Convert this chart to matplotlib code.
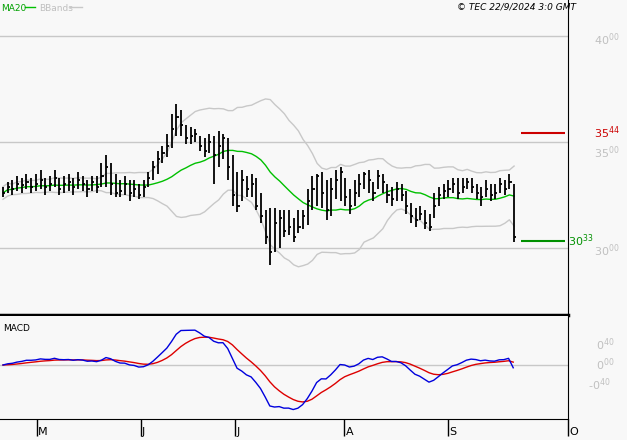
import numpy as np
import pandas as pd
import matplotlib
matplotlib.use('Agg')
import matplotlib.pyplot as plt
from matplotlib.lines import Line2D

plt.rcParams['mathtext.default'] = 'regular'

# daily closes, 22 Apr 2024 .. 20 Sep 2024 (trading days)
closes = [32.60, 32.90, 32.80, 33.00, 32.95,
          33.10, 32.90, 33.00, 33.20, 32.90,
          33.00, 33.30, 32.80, 33.00, 33.10,
          32.90, 33.20, 33.00, 32.80, 33.10,
          32.90, 33.40, 33.80, 33.00, 32.60,
          32.70, 33.00, 32.60, 32.80, 32.50,
          32.90, 33.30, 33.80, 34.20, 34.50,
          34.80, 35.60, 36.20, 35.80, 35.20,
          35.30, 35.40, 34.80, 34.60, 35.00,
          34.40, 34.80, 35.20, 33.80, 32.50,
          32.00, 33.20, 32.80, 33.00, 32.00,
          31.50, 30.50, 29.80, 31.20, 31.40,
          30.80, 31.00, 30.50, 31.00, 31.50,
          32.20, 32.80, 33.40, 32.60, 31.80,
          32.80, 33.20, 33.60, 32.40, 32.00,
          32.60, 33.00, 33.50, 33.20, 32.60,
          33.40, 33.10, 32.50, 32.30, 32.80,
          32.50, 32.00, 31.50, 31.30, 31.60,
          31.20, 31.00, 32.00, 32.50, 32.70,
          32.80, 33.00, 32.60, 32.90, 33.10,
          32.90, 32.60, 32.40, 32.80, 32.50,
          32.60, 33.00, 32.80, 33.10, 30.50]
highs = [32.90, 33.10, 33.20, 33.40, 33.30,
         33.50, 33.30, 33.50, 33.70, 33.30,
         33.40, 33.70, 33.30, 33.40, 33.50,
         33.30, 33.60, 33.40, 33.20, 33.40,
         33.40, 34.00, 34.40, 34.00, 33.50,
         33.20, 33.40, 33.20, 33.20, 33.00,
         33.20, 33.60, 34.10, 34.60, 34.80,
         35.40, 36.30, 36.80, 36.50, 35.80,
         35.70, 35.60, 35.30, 35.20, 35.40,
         35.30, 35.50, 35.40, 35.20, 34.40,
         33.60, 33.70, 33.40, 33.50, 33.30,
         32.60, 31.80, 31.90, 31.90, 31.80,
         31.80, 31.80, 31.40, 31.80, 31.80,
         32.80, 33.40, 33.50, 33.60, 33.20,
         33.30, 33.70, 33.80, 33.30, 32.80,
         33.20, 33.50, 33.60, 33.70, 33.10,
         33.70, 33.50, 33.00, 32.90, 33.10,
         33.00, 32.70, 32.10, 31.90, 32.00,
         31.80, 31.60, 32.60, 32.90, 33.00,
         33.20, 33.30, 33.30, 33.30, 33.30,
         33.30, 33.00, 32.90, 33.20, 33.00,
         33.00, 33.30, 33.20, 33.50, 33.00]
lows = [32.40, 32.60, 32.50, 32.70, 32.60,
        32.80, 32.60, 32.70, 32.80, 32.50,
        32.70, 32.90, 32.50, 32.60, 32.70,
        32.50, 32.80, 32.70, 32.40, 32.70,
        32.60, 32.90, 32.90, 32.50, 32.40,
        32.40, 32.50, 32.20, 32.40, 32.30,
        32.40, 32.90, 33.20, 33.50, 34.00,
        34.30, 34.70, 35.30, 35.30, 34.90,
        34.90, 35.00, 34.60, 34.30, 34.50,
        33.00, 33.80, 34.20, 33.20, 32.00,
        31.70, 32.20, 32.40, 32.40, 31.80,
        31.20, 30.20, 29.20, 29.80, 30.00,
        30.50, 30.60, 30.30, 30.70, 30.90,
        31.10, 31.80, 32.00, 31.90, 31.30,
        31.50, 32.30, 32.20, 32.00, 31.60,
        32.00, 32.40, 32.80, 32.60, 32.20,
        32.80, 32.60, 32.10, 32.00, 32.20,
        32.20, 31.60, 31.20, 31.00, 31.30,
        30.90, 30.80, 31.40, 32.00, 32.30,
        32.40, 32.60, 32.30, 32.60, 32.80,
        32.60, 32.30, 32.00, 32.40, 32.20,
        32.30, 32.60, 32.50, 32.80, 30.30]

month_labels = ['M', 'J', 'J', 'A', 'S', 'O']
month_pos = [7.25, 29.4, 49.5, 72.9, 95.1, 120.7]
price_ticks = [30, 35, 40]
macd_ticks = [0.40, 0.0, -0.40]
macd_tick_labels = [('0', '40'), ('0', '00'), ('-0', '40')]
last_price = 30.33
resistance = 35.44

bg = '#f8f8f8'
grid_c = '#c8c8c8'
lbl_c = '#c0c0c0'

s = pd.Series(closes)
ma20 = s.rolling(20, min_periods=1).mean()
sd = s.rolling(20, min_periods=2).std(ddof=0).bfill()
upper = ma20 + 2 * sd
lower = ma20 - 2 * sd
ema12 = s.ewm(span=12, adjust=False).mean()
ema26 = s.ewm(span=26, adjust=False).mean()
macd = ema12 - ema26
signal = macd.ewm(span=9, adjust=False).mean()
x = np.arange(len(closes))

fig = plt.figure(figsize=(6.27, 4.4), dpi=100, facecolor=bg)
W = 568 / 627
ax = fig.add_axes([0, 1 - 315 / 440, W, 315 / 440], facecolor=bg)
ax2 = fig.add_axes([0, 21 / 440, W, 103 / 440], facecolor=bg)
xlim = (-0.64, 120.5)

# price panel
for p in price_ticks:
    ax.axhline(p, color=grid_c, lw=1, zorder=0)
ax.plot(x, upper, color='#c8c8c8', lw=1)
ax.plot(x, lower, color='#c8c8c8', lw=1)
ax.plot(x, ma20, color='#00c000', lw=1)
ax.vlines(x, lows, highs, color='black', lw=1.3)
ax.hlines(closes, x, x + 0.45, color='black', lw=1.3)
ax.hlines(resistance, 110.5, 119.8, color='#cc0000', lw=1.5)
ax.hlines(last_price, 110.5, 119.8, color='#009000', lw=1.5)
ax.set_xlim(*xlim)
ax.set_ylim(26.84, 41.70)
ax.set_xticks([])
ax.set_yticks([])
for sp in ['left', 'top']:
    ax.spines[sp].set_visible(False)
ax.spines['right'].set_color('black')
ax.spines['bottom'].set_linewidth(2.5)

def sup_label(axis, y, a, b, color, xoff=1.005, size=8):
    axis.text(xoff, y, r'%s$^{%s}$' % (a, b), transform=axis.get_yaxis_transform(),
              color=color, fontsize=size, va='center', ha='left', clip_on=False)

for p in price_ticks:
    sup_label(ax, p - (0.5 if p == 35 else 0.15), str(p), '00', lbl_c, xoff=1.045)
sup_label(ax, resistance, '35', '44', '#cc0000', xoff=1.045)
sup_label(ax, last_price, '30', '33', '#009000', xoff=1.0)

# legend text on top
fig.text(0.002, 0.992, 'MA20', color='#00a000', fontsize=6.5, va='top')
fig.add_artist(Line2D([0.040, 0.056], [0.984, 0.984], color='#00c000', lw=1))
fig.text(0.062, 0.992, 'BBands', color='#c0c0c0', fontsize=6.5, va='top')
fig.add_artist(Line2D([0.112, 0.130], [0.984, 0.984], color='#c8c8c8', lw=1))
fig.text(0.918, 0.995, '\u00a9 TEC 22/9/2024 3:0 GMT', fontsize=6.5, style='italic',
         ha='right', va='top')

# MACD panel
ax2.axhline(0, color=grid_c, lw=1, zorder=0)
ax2.plot(x, signal, color='#dd0000', lw=1)
ax2.plot(x, macd, color='#0000dd', lw=1)
ax2.set_xlim(*xlim)
ax2.set_ylim(-1.08, 0.98)
ax2.set_yticks([])
ax2.set_xticks(month_pos)
ax2.set_xticklabels([])
ax2.tick_params(axis='x', length=12, width=1, direction='out', color='black')
for sp in ['left', 'top']:
    ax2.spines[sp].set_visible(False)
ax2.text(0.005, 0.92, 'MACD', transform=ax2.transAxes, fontsize=6.5, va='top')
for t, (a, b) in zip(macd_ticks, macd_tick_labels):
    sup_label(ax2, t, a, b, lbl_c, xoff=1.05 if a != '-0' else 1.035)
for pos, lab in zip(month_pos, month_labels):
    ax2.text(pos + 0.3, -0.13, lab, transform=ax2.get_xaxis_transform(),
             fontsize=8, ha='left', va='center', clip_on=False)

fig.savefig('out.png', dpi=100, facecolor=bg)
